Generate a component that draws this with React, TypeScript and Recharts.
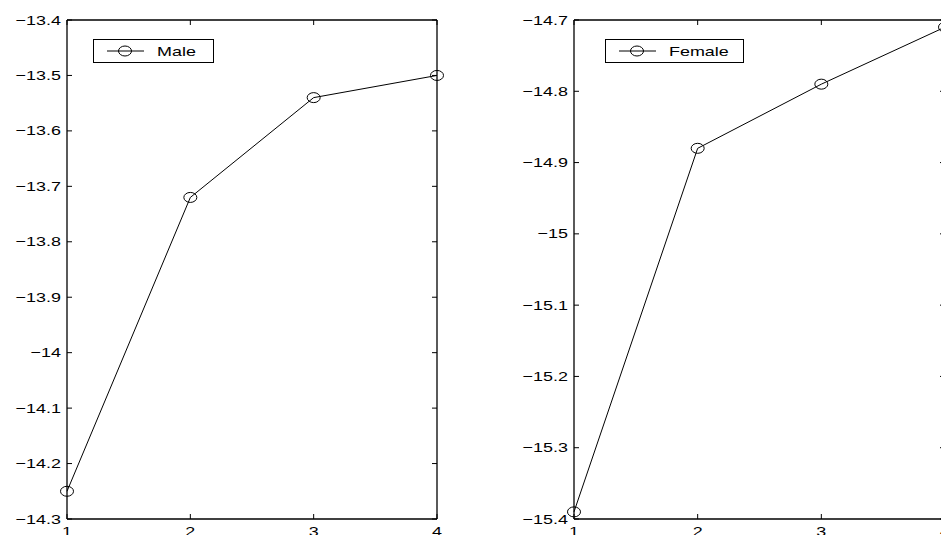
import React from "react";
import { LineChart, Line, XAxis, YAxis, Legend } from "recharts";

const xCategories = [1, 2, 3, 4];
const maleValues = [-14.25, -13.72, -13.54, -13.5];
const femaleValues = [-15.39, -14.88, -14.79, -14.71];
const maleTicks = [-14.3, -14.2, -14.1, -14, -13.9, -13.8, -13.7, -13.6, -13.5, -13.4];
const femaleTicks = [-15.4, -15.3, -15.2, -15.1, -15, -14.9, -14.8, -14.7];
const xTicks = [1, 2, 3, 4];

const maleData = xCategories.map((x, i) => ({ x, v: maleValues[i] }));
const femaleData = xCategories.map((x, i) => ({ x, v: femaleValues[i] }));

const FONT = '"Liberation Sans", Arial, Helvetica, sans-serif';
const SX = 1.38;
const TICK = 5;

const fmt = (v: number) => {
  const s = String(Number(Math.abs(v).toFixed(1)));
  return (v < 0 ? "\u2212" : "") + s;
};

type PanelProps = {
  data: { x: number; v: number }[];
  ticks: number[];
  name: string;
  left: number;
  width: number;
  marginLeft: number;
  legendLeft: number;
  legendWidth: number;
};

const HEIGHT = 535;
const TOP = 20;
const BOTTOM = 16;
const RIGHT = 33;

function Panel(p: PanelProps) {
  const plotLeft = p.marginLeft;
  const plotRight = p.width - RIGHT;
  const plotTop = TOP;
  const plotBottom = HEIGHT - BOTTOM;

  const YTick = (props: any) => {
    const { y, payload } = props;
    return (
      <g>
        <line x1={plotLeft} x2={plotLeft + TICK} y1={y} y2={y} stroke="#000" strokeWidth={1} />
        <line x1={plotRight - TICK} x2={plotRight} y1={y} y2={y} stroke="#000" strokeWidth={1} />
        <text
          transform={`translate(${plotLeft - 6},${y}) scale(${SX},1)`}
          textAnchor="end"
          dominantBaseline="central"
          fontFamily={FONT}
          fontSize={13}
          fill="#000"
        >
          {fmt(payload.value)}
        </text>
      </g>
    );
  };

  const XTick = (props: any) => {
    const { x, payload } = props;
    return (
      <g>
        <line x1={x} x2={x} y1={plotBottom} y2={plotBottom - TICK} stroke="#000" strokeWidth={1} />
        <line x1={x} x2={x} y1={plotTop} y2={plotTop + TICK} stroke="#000" strokeWidth={1} />
        <text
          transform={`translate(${x},${plotBottom + 17}) scale(${SX},1)`}
          textAnchor="middle"
          fontFamily={FONT}
          fontSize={13}
          fill="#000"
        >
          {String(payload.value)}
        </text>
      </g>
    );
  };

  const Dot = (props: any) => {
    const { cx, cy, index } = props;
    return <ellipse key={`d${index}`} cx={cx} cy={cy} rx={6.5} ry={5} fill="none" stroke="#000" strokeWidth={1} />;
  };

  const LegendBox = () => (
    <svg width={p.legendWidth + 1} height={25} style={{ display: "block" }}>
      <rect x={0.5} y={0.5} width={p.legendWidth} height={23} fill="#fff" stroke="#000" strokeWidth={1} />
      <line x1={14} x2={51} y1={12} y2={12} stroke="#000" strokeWidth={1} />
      <ellipse cx={32} cy={12} rx={6.5} ry={5} fill="none" stroke="#000" strokeWidth={1} />
      <text
        transform={`translate(64,12) scale(${SX},1)`}
        dominantBaseline="central"
        fontFamily={FONT}
        fontSize={13}
        fill="#000"
      >
        {p.name}
      </text>
    </svg>
  );

  const domain = [p.ticks[0], p.ticks[p.ticks.length - 1]];
  const axisLine = { stroke: "#000", strokeWidth: 1.3 };

  return (
    <div style={{ position: "absolute", left: p.left, top: 0 }}>
      <LineChart
        width={p.width}
        height={HEIGHT}
        data={p.data}
        margin={{ top: TOP - 1, right: RIGHT - 1, bottom: 0, left: 0 }}
      >
        <XAxis
          dataKey="x"
          type="number"
          domain={[1, 4]}
          ticks={xTicks}
          height={BOTTOM}
          axisLine={axisLine}
          tickLine={false}
          tick={<XTick />}
          interval={0}
        />
        <XAxis
          xAxisId="top"
          dataKey="x"
          orientation="top"
          type="number"
          domain={[1, 4]}
          height={1}
          axisLine={axisLine}
          tickLine={false}
          tick={false}
        />
        <YAxis
          type="number"
          domain={domain}
          ticks={p.ticks}
          width={p.marginLeft}
          axisLine={axisLine}
          tickLine={false}
          tick={<YTick />}
          interval={0}
        />
        <YAxis
          yAxisId="right"
          orientation="right"
          type="number"
          domain={domain}
          width={1}
          axisLine={axisLine}
          tickLine={false}
          tick={false}
        />
        <Legend
          layout="horizontal"
          verticalAlign="middle"
          align="center"
          content={() => <LegendBox />}
          wrapperStyle={{ position: "absolute", left: p.legendLeft, top: 39, width: p.legendWidth + 1, height: 25 }}
        />
        <Line
          dataKey="v"
          name={p.name}
          stroke="#000"
          strokeWidth={1}
          dot={Dot}
          isAnimationActive={false}
        />
      </LineChart>
    </div>
  );
}

export default function App() {
  return (
    <div
      style={{
        position: "absolute",
        left: 0,
        top: 0,
        width: 941,
        height: 535,
        overflow: "hidden",
        background: "#fff",
      }}
    >
      <Panel data={maleData} ticks={maleTicks} name="Male" left={0} width={470} marginLeft={67} legendLeft={93} legendWidth={120} />
      <Panel data={femaleData} ticks={femaleTicks} name="Female" left={470} width={508} marginLeft={104} legendLeft={135} legendWidth={138} />
    </div>
  );
}
